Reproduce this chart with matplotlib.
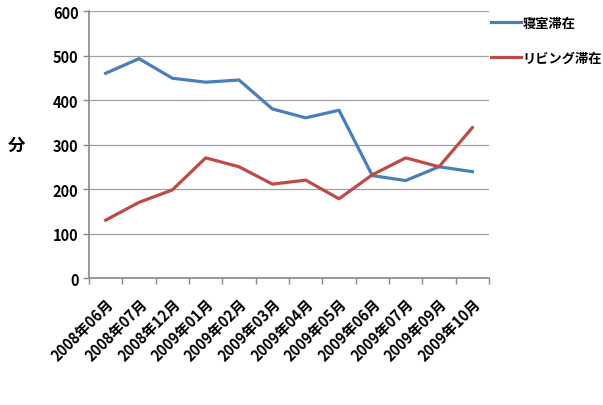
import numpy as np
import matplotlib
matplotlib.use('Agg')
import matplotlib.pyplot as plt

plt.rcParams['font.family'] = ['Noto Sans CJK JP', 'DejaVu Sans']

#========== data ==========#
months = ['2008年06月', '2008年07月', '2008年12月', '2009年01月', '2009年02月', '2009年03月',
          '2009年04月', '2009年05月', '2009年06月', '2009年07月', '2009年09月', '2009年10月']
bedroom = [460, 493, 449, 440, 445, 380, 360, 377, 230, 219, 250, 239]
living = [130, 170, 198, 270, 250, 211, 220, 178, 232, 270, 250, 338]

#========== figure ==========#
fig = plt.figure(figsize=(6.03, 4.06), dpi=100)
ax = fig.add_axes([0.1476, 0.3128, 0.6634, 0.6576])

x = np.arange(len(months))
l1, = ax.plot(x, bedroom, color='#4a7ebb', lw=2.3, label='寝室滞在')
l2, = ax.plot(x, living, color='#be4b48', lw=2.3, label='リビング滞在')

ax.set_ylim(0, 600)
ax.set_xlim(-0.5, len(months) - 0.5)
ax.set_yticks(np.arange(0, 601, 100))
ax.yaxis.grid(True, color='#a0a0a0', lw=0.9)
ax.set_axisbelow(True)

ax.set_xticks(x)
ax.set_xticklabels(months, rotation=45, ha='right', rotation_mode='anchor',
                   fontweight='bold', fontsize=10.5)
ax.set_xticks(np.arange(-0.5, len(months)), minor=True)
ax.tick_params(axis='x', which='major', length=0, pad=12)
ax.tick_params(axis='x', which='minor', length=4, color='#888888', width=1)
ax.tick_params(axis='y', length=4, color='#888888', width=1, labelsize=10.5)
for t in ax.get_yticklabels():
    t.set_fontweight('bold')

for s in ['top', 'right']:
    ax.spines[s].set_visible(False)
for s in ['left', 'bottom']:
    ax.spines[s].set_color('#888888')
    ax.spines[s].set_linewidth(1.2)

ax.set_ylabel('分', rotation=0, fontweight='bold', fontsize=12.5, labelpad=26, va='center')

#========== legend ==========#
leg = fig.legend(handles=[l1, l2], loc='upper left', bbox_to_anchor=(0.81, 0.965),
                 frameon=False, handlelength=2.3, handletextpad=0.1, labelspacing=1.55,
                 borderpad=0.2, borderaxespad=0,
                 prop={'weight': 'bold', 'size': 9.5})

fig.savefig('out.png', dpi=100)
